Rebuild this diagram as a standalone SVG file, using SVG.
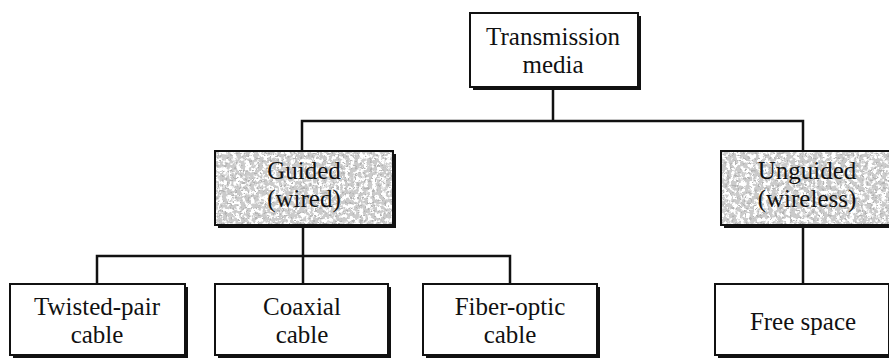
<svg xmlns="http://www.w3.org/2000/svg" width="889" height="358" viewBox="0 0 889 358">
<style>
.box{fill:#fff;stroke:#111;stroke-width:2}
.gbox{fill:#cbcbcb;stroke:#111;stroke-width:2}
.shadow{fill:#111}
.t{font-family:"Liberation Serif","Times New Roman",serif;font-size:25px;fill:#111;text-anchor:middle}
.c{fill:none;stroke:#111;stroke-width:2.5}
</style>
<defs>
<filter id="speckle" x="0" y="0" width="100%" height="100%">
<feTurbulence type="fractalNoise" baseFrequency="0.22" numOctaves="3" seed="3" result="n"/>
<feColorMatrix in="n" type="matrix" values="0 0 0 0 1  0 0 0 0 1  0 0 0 0 1  8 0 0 0 -3.7" result="w"/>
<feTurbulence type="fractalNoise" baseFrequency="0.4" numOctaves="2" seed="11" result="n2"/>
<feColorMatrix in="n2" type="matrix" values="0 0 0 0 0.45  0 0 0 0 0.45  0 0 0 0 0.45  9 0 0 0 -5.3" result="d"/>
<feMerge><feMergeNode in="w"/><feMergeNode in="d"/></feMerge>
</filter>
</defs>
<g id="connectors">
<path class="c" d="M553 87V121M302 151V121H803V151"/>
<path class="c" d="M303 225V284M97 284V256H510V284"/>
<path class="c" d="M803 225V284"/>
</g>
<g id="transmission-media">
<rect class="shadow" x="473" y="16" width="168" height="74"/>
<rect class="box" x="470" y="13" width="168" height="74"/>
<text class="t" x="553" y="45">Transmission</text>
<text class="t" x="553" y="73">media</text>
</g>
<g id="guided">
<rect class="shadow" x="218" y="154" width="178" height="74"/>
<rect class="gbox" x="215" y="151" width="178" height="74"/>
<rect x="216" y="152" width="176" height="72" fill="#fff" filter="url(#speckle)"/>
<text class="t" x="304" y="179">Guided</text>
<text class="t" x="304" y="207">(wired)</text>
</g>
<g id="unguided">
<rect class="shadow" x="724" y="154" width="172" height="74"/>
<rect class="gbox" x="721" y="151" width="172" height="74"/>
<rect x="722" y="152" width="170" height="72" fill="#fff" filter="url(#speckle)"/>
<text class="t" x="807" y="179">Unguided</text>
<text class="t" x="807" y="207">(wireless)</text>
</g>
<g id="twisted-pair">
<rect class="shadow" x="13" y="287" width="175" height="71"/>
<rect class="box" x="10" y="284" width="175" height="71"/>
<text class="t" x="97" y="315">Twisted-pair</text>
<text class="t" x="97" y="343">cable</text>
</g>
<g id="coaxial">
<rect class="shadow" x="218" y="287" width="173" height="71"/>
<rect class="box" x="215" y="284" width="173" height="71"/>
<text class="t" x="302" y="315">Coaxial</text>
<text class="t" x="302" y="343">cable</text>
</g>
<g id="fiber-optic">
<rect class="shadow" x="426" y="287" width="174" height="71"/>
<rect class="box" x="423" y="284" width="174" height="71"/>
<text class="t" x="510" y="315">Fiber-optic</text>
<text class="t" x="510" y="343">cable</text>
</g>
<g id="free-space">
<rect class="shadow" x="718" y="287" width="174" height="71"/>
<rect class="box" x="715" y="284" width="174" height="71"/>
<text class="t" x="803" y="330">Free space</text>
</g>
</svg>
